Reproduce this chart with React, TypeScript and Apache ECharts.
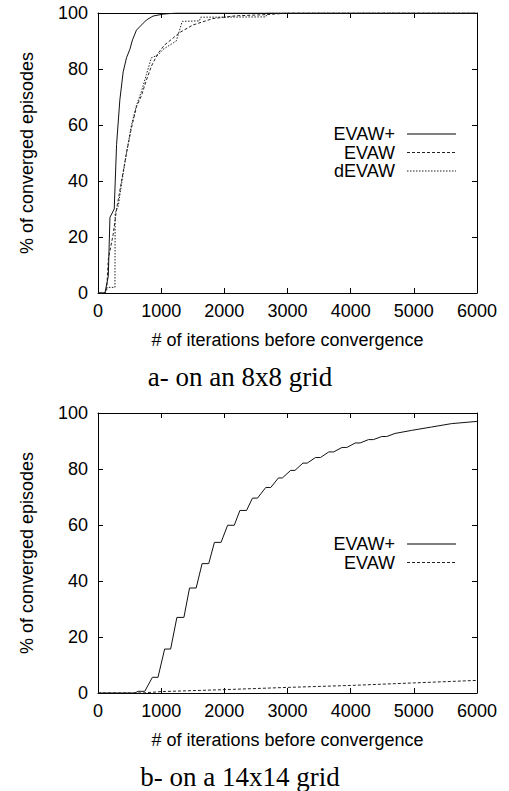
import React, { useEffect, useRef } from "react";
import * as echarts from "echarts";

// ---- data: [iterations, % of converged episodes] ----
const xTickValues = [0, 1000, 2000, 3000, 4000, 5000, 6000];
const yTickValues = [0, 20, 40, 60, 80, 100];

const evawPlus8: [number, number][] = [
  [0, 0], [110, 0], [163, 6], [189, 27], [257, 30], [294, 53], [346, 69], [399, 79],
  [451, 84], [504, 87], [546, 90.4], [609, 93.9], [688, 95.7], [766, 97.5], [871, 98.9],
  [1029, 99.6], [1240, 100], [6000, 100],
];
const evaw8: [number, number][] = [
  [0, 0], [110, 0], [137, 1], [163, 12], [241, 21], [294, 30], [373, 40], [451, 50],
  [530, 59], [609, 66.5], [688, 70.5], [766, 76], [845, 81], [950, 85.6], [1055, 88.6],
  [1186, 91], [1291, 93], [1501, 95.7], [1816, 98], [2180, 99], [2656, 99.4], [3020, 100],
  [6000, 100],
];
const dEvaw8: [number, number][] = [
  [0, 0], [110, 0], [137, 2], [268, 2], [272, 28.5], [320, 31], [373, 39], [451, 50],
  [530, 60], [609, 67], [688, 72], [766, 78], [845, 84], [950, 85], [1029, 87], [1239, 90],
  [1333, 97], [1606, 97.2], [1625, 98.5], [2656, 98.6], [2680, 100], [6000, 100],
];

const evawPlus14: [number, number][] = [
  [0, 0], [583, 0], [635, 0.6], [740, 0.6], [861, 5.6], [950, 5.6], [1055, 15.7], [1150, 15.7],
  [1249, 27], [1360, 27], [1449, 37.5], [1554, 37.5], [1648, 46.2], [1753, 46.2], [1843, 53.8],
  [1948, 53.8], [2052, 59.9], [2157, 59.9], [2247, 65.2], [2352, 65.2], [2446, 69.6], [2525, 69.6],
  [2656, 73.4], [2735, 73.4], [2856, 76.8], [2919, 76.8], [3050, 79.5], [3118, 79.5], [3244, 82.1],
  [3312, 82.1], [3444, 84.1], [3522, 84.1], [3654, 86.1], [3730, 86.1], [3864, 87.7], [3940, 87.7],
  [4074, 89.3], [4150, 89.3], [4283, 90.5], [4360, 90.5], [4493, 91.6], [4570, 91.6], [4703, 92.7],
  [4966, 93.8], [5281, 95], [5596, 96.2], [6000, 97],
];
const evaw14: [number, number][] = [
  [0, 0], [700, 0], [1000, 0.5], [2000, 1.2], [3000, 2], [4000, 2.7], [5000, 3.6], [6000, 4.5],
];

const legend8 = ["EVAW+", "EVAW", "dEVAW"];
const legend14 = ["EVAW+", "EVAW"];
const captions = ["a- on an 8x8 grid", "b- on a 14x14 grid"];
const xName = "# of iterations before convergence";
const yName = "% of converged episodes";

const SANS = '"Liberation Sans", Arial, Helvetica, sans-serif';
const SERIF = '"Liberation Serif", "Times New Roman", serif';

const styles: Record<string, any> = {
  "EVAW+": { color: "#111", width: 1, type: "solid" },
  EVAW: { color: "#222", width: 1, type: [3, 2] },
  dEVAW: { color: "#222", width: 1, type: [1.5, 1.5] },
};

export default function App() {
  const ref = useRef<HTMLDivElement>(null);
  useEffect(() => {
    const chart = echarts.init(ref.current!, null, { renderer: "svg" });
    const gridTops = [13, 413];
    const gridH = 280;

    const xAxes: any[] = [];
    const yAxes: any[] = [];
    gridTops.forEach((_, gi) => {
      const common = {
        type: "value",
        gridIndex: gi,
        splitLine: { show: false },
        axisLine: { show: true, onZero: false, lineStyle: { color: "#000", width: 1 } },
        axisTick: { show: true, inside: true, length: 5, lineStyle: { color: "#000", width: 1 } },
      };
      xAxes.push({
        ...common,
        min: xTickValues[0],
        max: xTickValues[xTickValues.length - 1],
        interval: 1000,
        position: "bottom",
        axisLabel: { margin: 9, fontSize: 18, color: "#000", fontFamily: SANS, formatter: (v: number) => String(v) },
        name: xName,
        nameLocation: "middle",
        nameGap: 38,
        nameTextStyle: { fontSize: 18, color: "#000", fontFamily: SANS },
      });
      xAxes.push({
        ...common,
        min: xTickValues[0],
        max: xTickValues[xTickValues.length - 1],
        interval: 1000,
        position: "top",
        axisLabel: { show: false },
      });
      yAxes.push({
        ...common,
        min: yTickValues[0],
        max: yTickValues[yTickValues.length - 1],
        interval: 20,
        position: "left",
        axisLabel: { margin: 10, fontSize: 18, color: "#000", fontFamily: SANS, formatter: (v: number) => String(v) },
        name: yName,
        nameLocation: "middle",
        nameGap: 62,
        nameRotate: 90,
        nameTextStyle: { fontSize: 18, color: "#000", fontFamily: SANS },
      });
      yAxes.push({
        ...common,
        min: yTickValues[0],
        max: yTickValues[yTickValues.length - 1],
        interval: 20,
        position: "right",
        axisLabel: { show: false },
      });
    });

    const mk = (name: string, data: [number, number][], gi: number) => ({
      type: "line",
      name,
      xAxisIndex: gi * 2,
      yAxisIndex: gi * 2,
      data,
      symbol: "none",
      showSymbol: false,
      lineStyle: styles[name],
      z: name === "EVAW+" ? 3 : 2,
    });

    const graphics: any[] = [];
    const legendBlocks: [string[], number[]][] = [
      [legend8, [134, 152.5, 171]],
      [legend14, [544, 562.5]],
    ];
    legendBlocks.forEach(([names, ys]) => {
      names.forEach((n, i) => {
        graphics.push({
          type: "text",
          x: 395,
          y: ys[i],
          style: { text: n, fill: "#000", font: `18px ${SANS}`, align: "right", verticalAlign: "middle" },
        });
        const st = styles[n];
        graphics.push({
          type: "line",
          shape: { x1: 407, y1: ys[i], x2: 456, y2: ys[i] },
          style: {
            stroke: n === "EVAW+" ? "#555" : "#222",
            lineWidth: n === "EVAW+" ? 1.6 : 1,
            lineDash: Array.isArray(st.type) ? st.type : null,
          },
        });
      });
    });
    [377, 777].forEach((y, i) => {
      graphics.push({
        type: "text",
        x: 240,
        y,
        style: { text: captions[i], fill: "#000", font: `27px ${SERIF}`, align: "center", verticalAlign: "middle" },
      });
    });

    chart.setOption({
      animation: false,
      backgroundColor: "#fff",
      grid: gridTops.map((t) => ({ left: 98, top: t, width: 381, height: gridH, containLabel: false })),
      xAxis: xAxes,
      yAxis: yAxes,
      series: [
        mk("EVAW+", evawPlus8, 0),
        mk("EVAW", evaw8, 0),
        mk("dEVAW", dEvaw8, 0),
        mk("EVAW+", evawPlus14, 1),
        mk("EVAW", evaw14, 1),
      ],
      graphic: graphics,
    });
    return () => chart.dispose();
  }, []);
  return (
    <div
      ref={ref}
      style={{ position: "absolute", left: 0, top: 0, width: 500, height: 791, background: "#fff", overflow: "hidden" }}
    />
  );
}
